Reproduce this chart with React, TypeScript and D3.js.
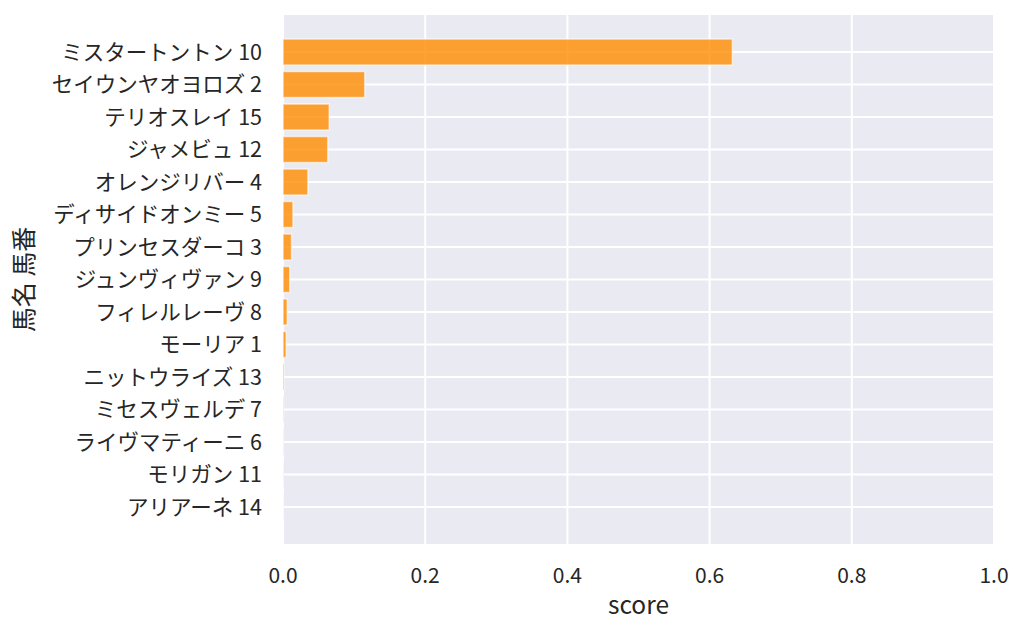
import * as d3 from "d3";
import { useEffect, useRef } from "react";

const horseNames = [
	"ミスタートントン",
	"セイウンヤオヨロズ",
	"テリオスレイ",
	"ジャメビュ",
	"オレンジリバー",
	"ディサイドオンミー",
	"プリンセスダーコ",
	"ジュンヴィヴァン",
	"フィレルレーヴ",
	"モーリア",
	"ニットウライズ",
	"ミセスヴェルデ",
	"ライヴマティーニ",
	"モリガン",
	"アリアーネ",
];
const horseNumbers = [10, 2, 15, 12, 4, 5, 3, 9, 8, 1, 13, 7, 6, 11, 14];
const scores = [
	0.632, 0.115, 0.065, 0.063, 0.035, 0.014, 0.012, 0.0095, 0.006, 0.0045,
	0.0015, 0.0007, 0.0005, 0.0004, 0.0002,
];
const xTicks = [0, 0.2, 0.4, 0.6, 0.8, 1.0];

const W = 1024;
const H = 634;
const FONT = "'Noto Sans CJK JP', 'Noto Sans', sans-serif";

export default function App() {
	const svgRef = useRef<SVGSVGElement>(null);

	useEffect(() => {
		document.body.style.margin = "0";
		const svg = d3.select(svgRef.current);
		if (!svg.node()) return;
		svg.selectAll("*").remove();

		const left = 283;
		const right = 994;
		const top = 15;
		const bottom = 544;

		const x = d3.scaleLinear().domain([0, 1]).range([left, right]);
		// matplotlib barh: bar height 0.8, 5% margins on y
		const n = horseNames.length;
		const lo = -0.4;
		const hi = n - 1 + 0.4;
		const pad = (hi - lo) * 0.05;
		const y = d3
			.scaleLinear()
			.domain([lo - pad, hi + pad])
			.range([top, bottom]);
		const unit = y(1) - y(0);

		// background
		svg
			.append("rect")
			.attr("x", left)
			.attr("y", top)
			.attr("width", right - left)
			.attr("height", bottom - top)
			.attr("fill", "#eaeaf2");

		// grid
		svg
			.append("g")
			.selectAll("line")
			.data(xTicks)
			.join("line")
			.attr("x1", (d) => x(d))
			.attr("x2", (d) => x(d))
			.attr("y1", top)
			.attr("y2", bottom)
			.attr("stroke", "#fff")
			.attr("stroke-width", 2);

		svg
			.append("g")
			.selectAll("line")
			.data(horseNames)
			.join("line")
			.attr("x1", left)
			.attr("x2", right)
			.attr("y1", (_, i) => y(i))
			.attr("y2", (_, i) => y(i))
			.attr("stroke", "#fff")
			.attr("stroke-width", 2);

		// bars
		svg
			.append("g")
			.selectAll("rect")
			.data(scores)
			.join("rect")
			.attr("x", x(0))
			.attr("y", (_, i) => y(i) - unit * 0.4)
			.attr("width", (d) => x(d) - x(0))
			.attr("height", unit * 0.8)
			.attr("fill", "darkorange")
			.attr("fill-opacity", 0.8)
			.attr("stroke", "#fff")
			.attr("stroke-opacity", 0.6)
			.attr("stroke-width", 1.5);

		// y tick labels
		svg
			.append("g")
			.selectAll("text")
			.data(horseNames)
			.join("text")
			.attr("x", 262)
			.attr("y", (_, i) => y(i))
			.attr("dy", "0.36em")
			.attr("text-anchor", "end")
			.attr("fill", "#262626")
			.style("font-family", FONT)
			.style("font-size", "21.5px")
			.text((d, i) => `${d} ${horseNumbers[i]}`);

		// x tick labels
		svg
			.append("g")
			.selectAll("text")
			.data(xTicks)
			.join("text")
			.attr("x", (d) => x(d))
			.attr("y", 583)
			.attr("text-anchor", "middle")
			.attr("fill", "#262626")
			.style("font-family", FONT)
			.style("font-size", "21px")
			.text((d) => d3.format(".1f")(d));

		// axis titles
		svg
			.append("text")
			.attr("x", (left + right) / 2)
			.attr("y", 614)
			.attr("text-anchor", "middle")
			.attr("fill", "#262626")
			.style("font-family", FONT)
			.style("font-size", "24.5px")
			.text("score");

		svg
			.append("text")
			.attr("transform", `translate(33,${(top + bottom) / 2}) rotate(-90)`)
			.attr("text-anchor", "middle")
			.attr("fill", "#262626")
			.style("font-family", FONT)
			.style("font-size", "25px")
			.text("馬名 馬番");
	}, []);

	return (
		<div style={{ width: W, height: H }}>
			<svg ref={svgRef} width={W} height={H} style={{ display: "block" }} />
		</div>
	);
}
